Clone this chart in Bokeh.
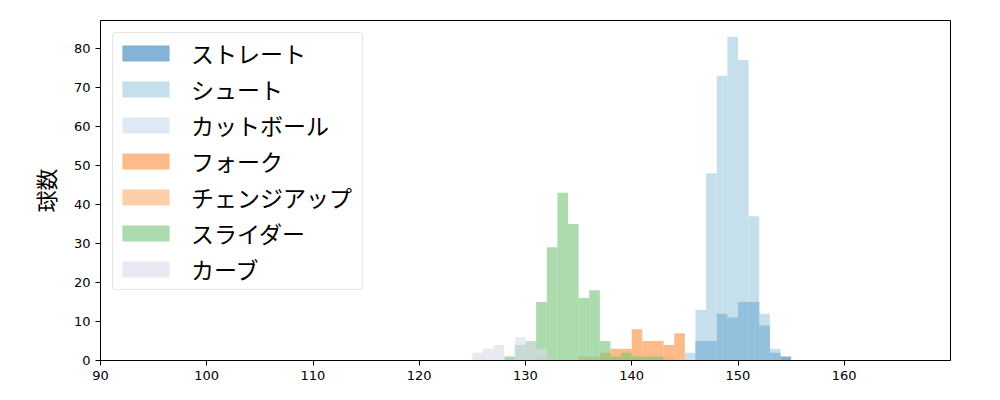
from bokeh.plotting import figure
from bokeh.models import ColumnDataSource, Range1d, FixedTicker, Legend, LegendItem
from bokeh.embed import file_html
from bokeh.resources import INLINE

# bin left edges (km/h), each bin 1 km/h wide
bin_left = list(range(125, 155))

straight = [0]*21 + [5, 5, 12, 11, 15, 15, 9, 2, 1]
shoot = [0]*20 + [2, 13, 48, 73, 83, 77, 37, 12, 3, 0]
cutball = [0]*30
fork = [0]*12 + [2, 3, 3, 8, 5, 5, 4, 7] + [0]*10
changeup = [0]*6 + [1, 0, 0, 0, 1, 1, 0, 0, 0, 0, 0, 0, 1] + [0]*11
slider = [0, 0, 0, 1, 4, 5, 15, 29, 43, 35, 16, 18, 5, 1, 2, 1, 1, 1] + [0]*12
curve = [2, 3, 4, 0, 6, 5, 3] + [0]*23

names = ["ストレート", "シュート", "カットボール", "フォーク", "チェンジアップ", "スライダー", "カーブ"]
series = [straight, shoot, cutball, fork, changeup, slider, curve]
colors = ["#3182bd", "#9ecae1", "#c6dbef", "#fd8d3c", "#fdae6b", "#74c476", "#dadaeb"]

x_ticks = [90, 100, 110, 120, 130, 140, 150, 160]
y_ticks = [0, 10, 20, 30, 40, 50, 60, 70, 80]

p = figure(width=984, height=384, output_backend="svg", toolbar_location=None,
           x_range=Range1d(90, 170), y_range=Range1d(0, 87.15),
           min_border_left=100, min_border_right=34, min_border_top=20, min_border_bottom=24)

items = []
for name, vals, col in zip(names, series, colors):
    src = ColumnDataSource(dict(left=bin_left, right=[l + 1 for l in bin_left],
                                top=vals, bottom=[0]*len(vals)))
    r = p.quad(left="left", right="right", top="top", bottom="bottom", source=src,
               fill_color=col, fill_alpha=0.6, line_color=None)
    items.append(LegendItem(label=name, renderers=[r], index=0))

p.xgrid.visible = False
p.ygrid.visible = False
p.outline_line_color = "black"
p.outline_line_width = 1

for ax in (p.xaxis[0], p.yaxis[0]):
    ax.axis_line_color = "black"
    ax.major_tick_line_color = "black"
    ax.minor_tick_line_color = None
    ax.major_tick_out = 5
    ax.major_tick_in = 0
    ax.major_label_text_font = "DejaVu Sans"
    ax.major_label_text_font_size = "13px"
    ax.major_label_text_color = "black"

p.xaxis[0].ticker = FixedTicker(ticks=x_ticks)
p.yaxis[0].ticker = FixedTicker(ticks=y_ticks)
p.yaxis[0].axis_label = "球数"
p.yaxis[0].axis_label_text_font = "Noto Sans CJK JP"
p.yaxis[0].axis_label_text_font_size = "22px"
p.yaxis[0].axis_label_text_font_style = "normal"
p.yaxis[0].axis_label_text_color = "black"
p.yaxis[0].axis_label_standoff = 10

legend = Legend(items=items, location="top_left")
legend.margin = 12
legend.padding = 3
legend.spacing = 2
legend.glyph_width = 59
legend.glyph_height = 20
legend.label_standoff = 16
legend.label_width = 168
legend.label_text_font = "Noto Sans CJK JP"
legend.label_text_font_size = "23px"
legend.label_text_color = "black"
legend.border_line_color = "#cccccc"
legend.border_line_width = 1
legend.border_radius = 4
legend.background_fill_alpha = 0.8
p.add_layout(legend)

open("out.html", "w").write(file_html(p, INLINE))
